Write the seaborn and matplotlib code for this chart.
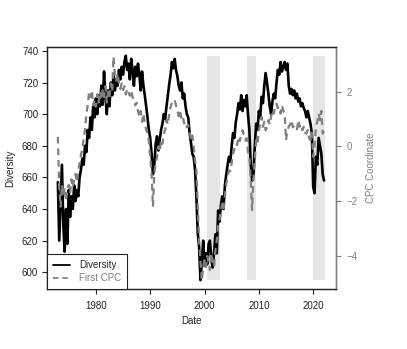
import numpy as np
import pandas as pd
import matplotlib
matplotlib.use("Agg")
import matplotlib.pyplot as plt
from matplotlib.lines import Line2D
import seaborn as sns

start_year = 1973.0
diversity = [
    657, 620, 645, 668,   # 1973
    630, 613, 640, 618,   # 1974
    652, 635, 648, 640,   # 1975
    655, 645, 652, 648,   # 1976
    660, 665, 672, 668,   # 1977
    680, 676, 690, 685,   # 1978
    698, 690, 705, 698,   # 1979
    710, 700, 712, 705,   # 1980
    718, 706, 727, 712,   # 1981
    700, 715, 705, 720,   # 1982
    712, 725, 715, 722,   # 1983
    718, 728, 722, 730,   # 1984
    725, 733, 737, 728,   # 1985
    732, 722, 735, 728,   # 1986
    718, 730, 724, 732,   # 1987
    725, 715, 727, 718,   # 1988
    712, 705, 698, 690,   # 1989
    685, 675, 662, 668,   # 1990
    681, 686, 677, 684,   # 1991
    690, 694, 700, 697,   # 1992
    705, 712, 719, 725,   # 1993
    733, 729, 735, 728,   # 1994
    724, 718, 715, 720,   # 1995
    710, 713, 705, 700,   # 1996
    698, 688, 682, 675,   # 1997
    673, 665, 648, 625,   # 1998
    616, 595, 606, 620,   # 1999
    604, 612, 605, 618,   # 2000
    620, 608, 603, 612,   # 2001
    624, 612, 639, 632,   # 2002
    642, 648, 640, 655,   # 2003
    662, 668, 673, 670,   # 2004
    680, 688, 685, 695,   # 2005
    700, 707, 703, 712,   # 2006
    702, 709, 705, 712,   # 2007
    700, 690, 668, 658,   # 2008
    662, 680, 694, 690,   # 2009
    702, 698, 711, 707,   # 2010
    718, 726, 720, 713,   # 2011
    705, 700, 708, 713,   # 2012
    710, 720, 728, 725,   # 2013
    733, 727, 730, 733,   # 2014
    728, 732, 718, 713,   # 2015
    716, 712, 715, 710,   # 2016
    713, 708, 710, 705,   # 2017
    707, 704, 702, 698,   # 2018
    702, 698, 694, 688,   # 2019
    654, 650, 673, 668,   # 2020
    685, 680, 675, 662,   # 2021
    658,                  # 2022
]
first_cpc = [
    0.35, -1.5, -2.2, -1.4,     # 1973
    -1.8, -1.5, -2.0, -1.6,     # 1974
    -1.4, -1.7, -1.2, -1.5,     # 1975
    -1.2, -1.0, -1.3, -0.9,     # 1976
    -0.6, -0.3, -0.1, 0.3,      # 1977
    0.6, 1.2, 1.5, 2.0,         # 1978
    1.8, 2.05, 1.5, 1.7,        # 1979
    1.45, 1.9, 1.6, 2.0,        # 1980
    1.7, 2.05, 1.8, 2.2,        # 1981
    1.6, 2.0, 1.8, 2.3,         # 1982
    2.0, 3.28, 2.6, 2.4,        # 1983
    2.67, 2.3, 2.1, 2.3,        # 1984
    2.06, 2.2, 1.9, 2.1,        # 1985
    2.0, 1.85, 2.05, 1.8,       # 1986
    1.7, 1.5, 1.6, 1.3,         # 1987
    1.09, 1.3, 0.9, 1.2,        # 1988
    0.85, 0.6, 0.49, 0.2,       # 1989
    -0.37, -0.97, -2.2, -1.0,   # 1990
    -0.6, -0.4, 0.0, -0.2,      # 1991
    0.24, 0.1, 0.47, 0.6,       # 1992
    0.97, 0.8, 1.2, 1.44,       # 1993
    1.59, 1.69, 1.7, 1.5,       # 1994
    1.33, 1.1, 1.3, 1.0,        # 1995
    1.09, 0.84, 0.9, 0.7,       # 1996
    0.78, 0.5, 0.23, 0.4,       # 1997
    0.0, -0.5, -0.86, -2.2,     # 1998
    -3.42, -4.15, -4.9, -4.4,   # 1999
    -4.15, -4.4, -4.0, -4.23,   # 2000
    -4.5, -3.9, -4.2, -4.4,     # 2001
    -3.8, -3.42, -2.9, -2.69,   # 2002
    -2.3, -2.09, -2.3, -1.8,    # 2003
    -1.36, -1.1, -0.87, -0.9,   # 2004
    -0.6, -0.26, -0.1, 0.1,     # 2005
    0.05, 0.35, 0.2, 0.45,      # 2006
    0.59, 0.4, 0.23, 0.3,       # 2007
    -0.2, -0.38, -1.22, -2.32,  # 2008
    -1.22, -0.5, 0.23, 0.1,     # 2009
    0.59, 0.8, 1.08, 0.72,      # 2010
    0.9, 0.59, 0.7, 0.96,       # 2011
    0.8, 1.1, 1.32, 1.2,        # 2012
    1.5, 1.56, 1.4, 1.44,       # 2013
    1.2, 1.5, 1.3, 1.2,         # 2014
    0.23, 0.6, 0.72, 0.8,       # 2015
    0.96, 0.7, 0.72, 0.6,       # 2016
    0.59, 0.96, 0.72, 0.8,      # 2017
    0.59, 0.72, 0.5, 0.47,      # 2018
    0.6, 0.3, 0.23, 0.5,        # 2019
    -0.38, -0.01, 0.72, 0.9,    # 2020
    1.2, 0.96, 1.3, 0.47,       # 2021
    0.59,                       # 2022
]
recession_start = [2000.4, 2007.8, 2019.95]
recession_end = [2002.8, 2009.45, 2022.1]
x_ticks = [1980, 1990, 2000, 2010, 2020]
left_ticks = [600, 620, 640, 660, 680, 700, 720, 740]
right_ticks = [-4, -2, 0, 2]

years = start_year + np.arange(len(diversity)) / 4.0
df = pd.DataFrame({"Date": years, "Diversity": diversity, "CPC": first_cpc})

sns.set_theme(style="ticks")
plt.rcParams["font.family"] = ["Liberation Sans", "DejaVu Sans"]
plt.rcParams["font.size"] = 7

GRAY = "#7f7f7f"
fig = plt.figure(figsize=(4.07, 3.49), dpi=100)
ax = fig.add_axes([47 / 407, 60 / 349, 289 / 407, 242 / 349])
ax2 = ax.twinx()

# recession bands spanning the diversity range
lo, hi = min(diversity), max(diversity)
for s, e in zip(recession_start, recession_end):
    ax.fill_between([s, e], [lo, lo], [hi, hi], color="#e5e5e5", lw=0, zorder=0)

sns.lineplot(data=df, x="Date", y="Diversity", ax=ax, color="black", lw=1.9, zorder=2)
sns.lineplot(data=df, x="Date", y="CPC", ax=ax2, color=GRAY, lw=1.6,
             linestyle=(0, (3, 2.2)), zorder=2)

ax.set_xlim(1971.0, 2024.2)
ax.set_ylim(589.4, 742.5)
ax2.set_ylim(-5.2, 3.63)
ax.set_xticks(x_ticks)
ax.set_yticks(left_ticks)
ax2.set_yticks(right_ticks)
ax2.set_yticklabels([("\u2212" + str(abs(t))) if t < 0 else str(t) for t in right_ticks])

for a in (ax, ax2):
    for sp in a.spines.values():
        sp.set_visible(True)
        sp.set_linewidth(0.9)
        sp.set_color("#222222")
ax2.spines["right"].set_color(GRAY)

ax.tick_params(axis="x", direction="out", length=3.3, width=0.8, pad=5,
               labelsize=7, colors="#222222")
ax.tick_params(axis="y", direction="out", length=3.8, width=0.8, pad=2.5,
               labelsize=7, colors="#222222")
ax2.tick_params(axis="y", direction="out", length=3.8, width=0.8, pad=4,
                labelsize=7, colors=GRAY)

ax.set_xlabel("Date", fontsize=7, color="#222222", labelpad=4)
ax.set_ylabel("Diversity", fontsize=7, color="#222222", labelpad=5)
ax2.set_ylabel("CPC Coordinate", fontsize=7, color=GRAY, labelpad=6)
ax.grid(False)
ax2.grid(False)

handles = [Line2D([], [], color="black", lw=1.3),
           Line2D([], [], color=GRAY, lw=1.3, linestyle=(0, (3, 2.2)))]
leg = ax2.legend(handles, ["Diversity", "First CPC"], loc="lower left",
                 bbox_to_anchor=(0, 0), borderaxespad=0, frameon=True,
                 fancybox=False, edgecolor="#222222", framealpha=1,
                 fontsize=7, handlelength=1.8, handletextpad=0.9,
                 borderpad=0.6, labelspacing=0.3)
leg.get_frame().set_linewidth(0.8)
leg.get_texts()[1].set_color(GRAY)
leg.set_zorder(10)

fig.savefig("out.png", dpi=100)
